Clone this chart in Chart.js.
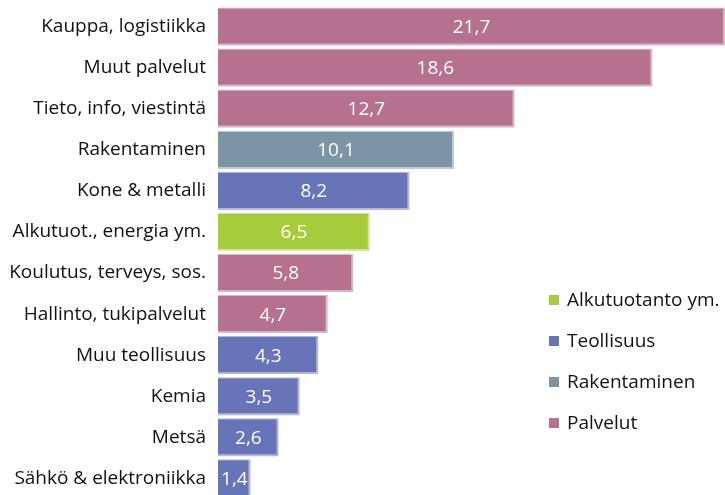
<!DOCTYPE html>
<html>
<head>
<meta charset="utf-8">
<script src="https://cdn.jsdelivr.net/npm/chart.js@4/dist/chart.umd.min.js"></script>
<style>
  html, body { margin: 0; padding: 0; background: #fff; overflow: hidden; }
  #wrap { position: relative; width: 725px; height: 505px; }
</style>
</head>
<body>
<div id="wrap"><canvas id="myChart" width="725" height="505"></canvas></div>
<script>
const categories = [
    'Kauppa, logistiikka', 'Muut palvelut', 'Tieto, info, viestintä', 'Rakentaminen',
    'Kone & metalli', 'Alkutuot., energia ym.', 'Koulutus, terveys, sos.',
    'Hallinto, tukipalvelut', 'Muu teollisuus', 'Kemia', 'Metsä', 'Sähkö & elektroniikka'
];
const values = [21.7, 18.6, 12.7, 10.1, 8.2, 6.5, 5.8, 4.7, 4.3, 3.5, 2.6, 1.4];
const sectorOf = [
    'Palvelut', 'Palvelut', 'Palvelut', 'Rakentaminen', 'Teollisuus', 'Alkutuotanto ym.',
    'Palvelut', 'Palvelut', 'Teollisuus', 'Teollisuus', 'Teollisuus', 'Teollisuus'
];
const legendNames = ['Alkutuotanto ym.', 'Teollisuus', 'Rakentaminen', 'Palvelut'];

const sectorColors = {
    'Alkutuotanto ym.': '#a7cc3b',
    'Teollisuus': '#6774b8',
    'Rakentaminen': '#7b95a6',
    'Palvelut': '#b5718f'
};
const edgeColors = {
    'Alkutuotanto ym.': '#d3e69c',
    'Teollisuus': '#b3b9dc',
    'Rakentaminen': '#bdcad2',
    'Palvelut': '#dab8c7'
};
const fontFamily = '"Open Sans", "Noto Sans", sans-serif';

// value labels inside bars + legend on the right
const extras = {
    id: 'extras',
    afterDatasetsDraw(chart) {
        const ctx = chart.ctx;
        const meta = chart.getDatasetMeta(0);
        ctx.save();
        ctx.font = '19px ' + fontFamily;
        ctx.fillStyle = '#fff';
        ctx.textAlign = 'center';
        ctx.textBaseline = 'middle';
        meta.data.forEach(function (bar, i) {
            let mid = (bar.base + Math.min(bar.x, chart.width)) / 2;
            ctx.fillText(values[i].toFixed(1).replace('.', ','), mid, bar.y + 1);
        });

        let lx = chart.chartArea.left + 331;
        let ly = 300;
        ctx.textAlign = 'left';
        legendNames.forEach(function (name, i) {
            let y = ly + i * 41;
            ctx.fillStyle = sectorColors[name];
            ctx.fillRect(lx, y - 5, 10, 10);
            ctx.fillStyle = '#111';
            ctx.fillText(name, lx + 18, y + 1);
        });
        ctx.restore();
    }
};

let myChart = document.getElementById('myChart').getContext('2d');
new Chart(myChart, {
    type: 'bar',
    data: {
        labels: categories,
        datasets: [{
            data: values,
            backgroundColor: sectorOf.map(s => sectorColors[s]),
            borderColor: sectorOf.map(s => edgeColors[s]),
            borderWidth: { top: 1, right: 2, bottom: 2, left: 0 },
            borderSkipped: 'start',
            categoryPercentage: 1,
            barPercentage: 0.93
        }]
    },
    options: {
        indexAxis: 'y',
        responsive: false,
        animation: false,
        layout: { padding: { top: 6, bottom: 6, right: 0, left: 0 } },
        plugins: {
            legend: { display: false },
            tooltip: { enabled: false }
        },
        scales: {
            x: {
                display: false,
                min: 0,
                max: 21.7
            },
            y: {
                grid: { display: false, drawTicks: false },
                border: { display: false },
                ticks: {
                    color: '#111',
                    padding: 12,
                    font: { family: fontFamily, size: 19 }
                },
                afterFit(scale) {
                    scale.width = 218;
                    scale.paddingTop = 0;
                    scale.paddingBottom = 0;
                }
            }
        }
    },
    plugins: [extras]
});
</script>
</body>
</html>
